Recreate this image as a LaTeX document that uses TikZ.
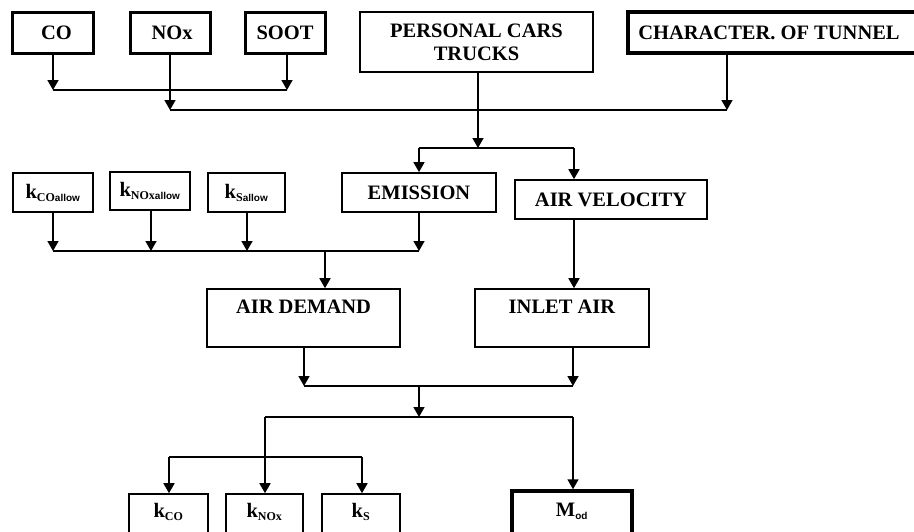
\documentclass[tikz,border=0pt]{standalone}
\usepackage{fontspec}
\setmainfont{Liberation Serif}
\setsansfont{Liberation Sans}
\usetikzlibrary{arrows.meta}
\tikzset{
  box/.style={draw, line width=1.6pt, inner sep=0pt, align=center,
    font=\fontsize{20.5}{23}\selectfont\bfseries, fill=white},
  heavybox/.style={box, line width=3pt},
  kbox/.style={box, line width=2pt},
  topbox/.style={box, text height=13pt, text depth=23pt, inner ysep=11pt},
  botbox/.style={box, text height=13pt, text depth=18pt, inner ysep=10pt},
  arr/.style={-{Triangle[width=11pt,length=10pt]}, line width=1.6pt},
  ln/.style={line width=1.6pt}
}
\newcommand{\sbs}[1]{\textsubscript{\fontsize{12}{12}\selectfont #1}}
\newcommand{\sfs}[1]{{\sffamily\fontsize{10}{10}\selectfont #1}}
\begin{document}
\begin{tikzpicture}[x=1pt,y=-1pt]
\useasboundingbox (0,0) rectangle (914,531);
\clip (0,0) rectangle (914,531);
\fill[white] (0,0) rectangle (914,531);

% top row
\node[heavybox, minimum width=81, minimum height=41] (co)   at (52.5,32.5) {\hspace*{8pt}CO};
\node[heavybox, minimum width=80, minimum height=41] (nox)  at (170,32.5) {\hspace*{4pt}NOx};
\node[heavybox, minimum width=80, minimum height=41] (soot) at (285,32.5) {SOOT};
\node[box, line width=2.5pt, minimum width=233, minimum height=60] (pers) at (476.5,42) {PERSONAL CARS\\TRUCKS};
\node[box, line width=3.5pt, minimum width=298, minimum height=41] (char) at (777,32.5) {\hspace*{-16pt}CHARACTER. OF TUNNEL};

% second row
\node[kbox, minimum width=80, minimum height=39] (kcoa)  at (53,192.5) {k\sbs{CO\sfs{allow}}};
\node[kbox, minimum width=80, minimum height=38] (knoxa) at (150,191) {k\sbs{NOx\sfs{allow}}};
\node[kbox, minimum width=77, minimum height=39] (ksa)   at (246.5,192.5) {k\sbs{S\sfs{allow}}};
\node[box, line width=1.8pt, minimum width=154, minimum height=39] (emis) at (419,192.5) {EMISSION};
\node[box, minimum width=192, minimum height=39] (airv) at (611,199.5) {AIR VELOCITY};

% third row
\node[topbox, minimum width=193, minimum height=58] (ad)    at (303.5,318) {AIR DEMAND};
\node[topbox, minimum width=174, minimum height=58] (inlet) at (562,318) {INLET AIR};

% bottom row
\node[botbox, minimum width=79, minimum height=51] (kco)  at (168.5,519.5) {k\sbs{CO}};
\node[botbox, minimum width=77, minimum height=51] (knox) at (264.5,519.5) {k\sbs{NOx}};
\node[botbox, minimum width=78, minimum height=51] (ks)   at (361,519.5) {k\sbs{S}};
\node[botbox, line width=3.5pt, minimum width=120, minimum height=53, inner ysep=12pt] (mod) at (572,518.5) {M\sbs{\sfs{od}}};

% junction coordinates
\coordinate (h1L) at (53,90);
\coordinate (h1R) at (287,90);
\coordinate (h2L) at (170,110);
\coordinate (h2R) at (727,110);
\coordinate (h3L) at (419,148);
\coordinate (h3R) at (574,148);
\coordinate (h4L) at (53,251);
\coordinate (h4R) at (419,251);
\coordinate (h4M) at (325,251);
\coordinate (h5L) at (304,386);
\coordinate (h5R) at (573,386);
\coordinate (h5M) at (419,386);
\coordinate (h6L) at (265,417);
\coordinate (h6R) at (573,417);
\coordinate (h6M) at (419,417);
\coordinate (h7L) at (169,457);
\coordinate (h7R) at (362,457);
\coordinate (h7M) at (265,457);

% top connectors
\draw[ln] (h1L) -- (h1R);
\draw[arr] (co.south -| h1L) -- (h1L);
\draw[arr] (soot.south -| h1R) -- (h1R);
\draw[ln] (h2L) -- (h2R);
\draw[arr] (nox.south) -- (h2L);
\draw[arr] (char.south -| h2R) -- (h2R);
\draw[arr] (pers.south -| 478,0) -- (478,148);
\draw[ln] (h3L) -- (h3R);
\draw[arr] (h3L) -- (emis.north);
\draw[arr] (h3R) -- (airv.north -| h3R);

% second-row connectors
\draw[ln] (h4L) -- (h4R);
\draw[arr] (kcoa.south) -- (h4L);
\draw[arr] (knoxa.south -| 151,0) -- (151,251);
\draw[arr] (ksa.south -| 247,0) -- (247,251);
\draw[arr] (emis.south) -- (h4R);
\draw[arr] (h4M) -- (ad.north -| h4M);
\draw[arr] (airv.south -| h3R) -- (inlet.north -| h3R);

% lower connectors
\draw[ln] (h5L) -- (h5R);
\draw[arr] (ad.south -| h5L) -- (h5L);
\draw[arr] (inlet.south -| h5R) -- (h5R);
\draw[arr] (h5M) -- (h6M);
\draw[ln] (h6L) -- (h6R);
\draw[arr] (h6L) -- (knox.north -| h6L);
\draw[arr] (h6R) -- (mod.north -| h6R);
\draw[ln] (h7L) -- (h7R);
\draw[arr] (h7L) -- (kco.north -| h7L);
\draw[arr] (h7R) -- (ks.north -| h7R);
\end{tikzpicture}
\end{document}
